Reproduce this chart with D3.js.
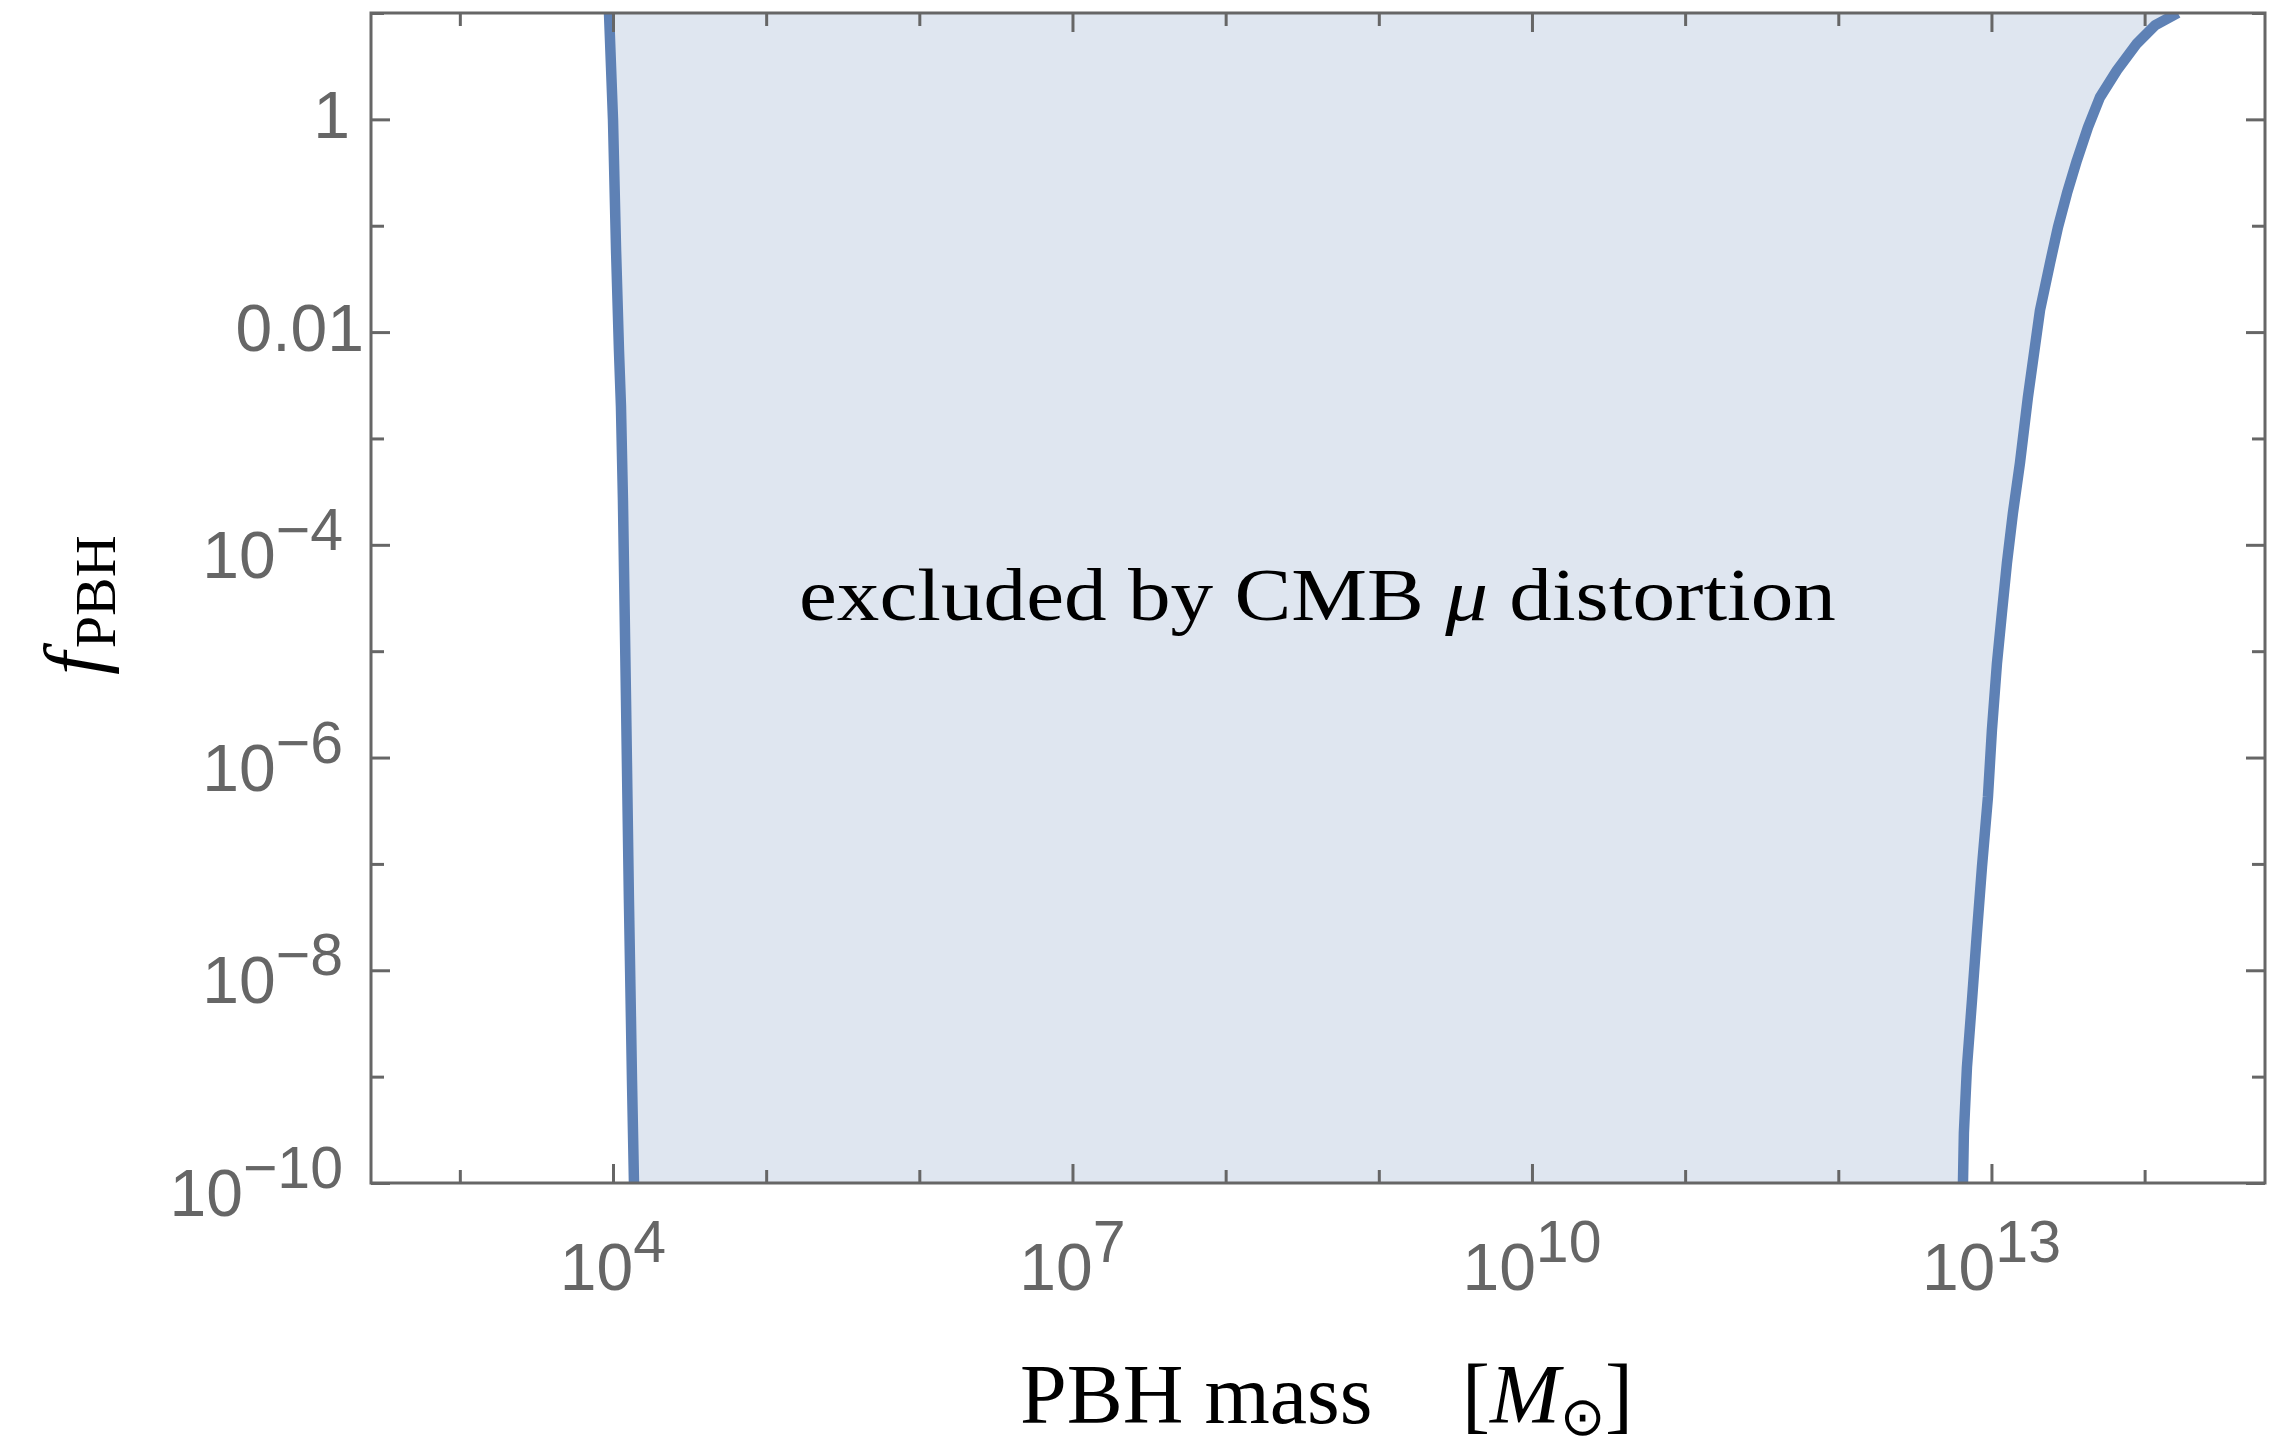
<!DOCTYPE html>
<html>
<head>
<meta charset="utf-8">
<script src="https://cdn.jsdelivr.net/npm/d3@7"></script>
<style>
  body { margin: 0; background: #fff; }
  svg { display: block; }
</style>
</head>
<body>
<svg id="chart"></svg>
<script>
// curve points, as log10 values
const massExpLeft = [3.974, 4.0, 4.020, 4.039, 4.052, 4.065, 4.085, 4.104, 4.124, 4.137];
const fExpLeft    = [1.0, 0, -1.231, -2.171, -2.697, -3.581, -5.461, -7.340, -9.032, -10];

const massExpRight = [14.217, 14.067, 13.950, 13.819, 13.708, 13.630, 13.558, 13.493, 13.434, 13.382,
                      13.317, 13.238, 13.186, 13.140, 13.101, 13.068, 13.036, 13.003, 12.977, 12.938,
                      12.905, 12.873, 12.840, 12.820, 12.814];
const fExpRight    = [1.0, 0.883, 0.714, 0.461, 0.207, -0.075, -0.385, -0.695, -1.015, -1.353,
                      -1.795, -2.613, -3.233, -3.703, -4.173, -4.643, -5.113, -5.742, -6.372, -7.030,
                      -7.650, -8.280, -8.910, -9.530, -10.0];

const xMajorExp = [4, 7, 10, 13];
const xMinorExp = [3, 5, 6, 8, 9, 11, 12, 14];
const yMajorExp = [0, -2, -4, -6, -8, -10];
const yMinorExp = [1, -1, -3, -5, -7, -9];

const annotation = "excluded by CMB ";

const width = 2275, height = 1447;
const marginTop = 13, marginRight = 10, marginBottom = 264, marginLeft = 371;
const frameColor = "#666666";
const lineColor = "#5e81b5";

const x = d3.scaleLog()
    .domain([10 ** 2.42, 10 ** 14.786])
    .range([marginLeft, width - marginRight]);
const y = d3.scaleLog()
    .domain([1e-10, 10])
    .range([height - marginBottom, marginTop]);

const svg = d3.select("#chart")
    .attr("width", width)
    .attr("height", height)
    .attr("viewBox", [0, 0, width, height]);

svg.append("clipPath")
    .attr("id", "plot-clip")
  .append("rect")
    .attr("x", marginLeft)
    .attr("y", marginTop)
    .attr("width", width - marginLeft - marginRight)
    .attr("height", height - marginTop - marginBottom);

const left = massExpLeft.map((m, i) => [10 ** m, 10 ** fExpLeft[i]]);
const right = massExpRight.map((m, i) => [10 ** m, 10 ** fExpRight[i]]);

const line = d3.line()
    .x(d => x(d[0]))
    .y(d => y(d[1]));

const plot = svg.append("g").attr("clip-path", "url(#plot-clip)");

// shaded region between the two boundaries
plot.append("path")
    .attr("fill", "#dfe6f0")
    .attr("d", line(left.concat(right.slice().reverse())) + "Z");

plot.selectAll(".bound")
  .data([left, right])
  .join("path")
    .attr("class", "bound")
    .attr("fill", "none")
    .attr("stroke", lineColor)
    .attr("stroke-width", 10.5)
    .attr("stroke-linejoin", "round")
    .attr("d", line);

// frame ticks, all pointing inward
function ticks(axis, scale, exps, size, transform) {
  svg.append("g")
      .attr("transform", transform)
      .call(axis(scale)
          .tickValues(exps.map(e => 10 ** e))
          .tickSizeInner(-size)
          .tickSizeOuter(0)
          .tickFormat(""))
      .call(g => g.select(".domain").remove())
      .call(g => g.selectAll(".tick line")
          .attr("stroke", frameColor)
          .attr("stroke-width", 3));
}

const bottom = height - marginBottom, rightEdge = width - marginRight;
ticks(d3.axisBottom, x, xMajorExp, 19, `translate(0,${bottom})`);
ticks(d3.axisBottom, x, xMinorExp, 13, `translate(0,${bottom})`);
ticks(d3.axisTop, x, xMajorExp, 19, `translate(0,${marginTop})`);
ticks(d3.axisTop, x, xMinorExp, 13, `translate(0,${marginTop})`);
ticks(d3.axisLeft, y, yMajorExp, 19, `translate(${marginLeft},0)`);
ticks(d3.axisLeft, y, yMinorExp, 13, `translate(${marginLeft},0)`);
ticks(d3.axisRight, y, yMajorExp, 19, `translate(${rightEdge},0)`);
ticks(d3.axisRight, y, yMinorExp, 13, `translate(${rightEdge},0)`);

svg.append("rect")
    .attr("x", marginLeft)
    .attr("y", marginTop)
    .attr("width", rightEdge - marginLeft)
    .attr("height", bottom - marginTop)
    .attr("fill", "none")
    .attr("stroke", frameColor)
    .attr("stroke-width", 3);

// tick labels
const labelFont = "'Liberation Sans', Arial, Helvetica, sans-serif";

svg.append("g")
    .attr("font-family", labelFont)
    .attr("font-size", 66)
    .attr("fill", frameColor)
    .attr("text-anchor", "middle")
  .selectAll("text")
  .data(xMajorExp)
  .join("text")
    .attr("x", e => x(10 ** e))
    .attr("y", 1290)
    .call(t => t.append("tspan").text("10"))
    .call(t => t.append("tspan")
        .attr("font-size", 59)
        .attr("dy", -28)
        .text(e => e));

svg.append("g")
    .attr("font-family", labelFont)
    .attr("font-size", 66)
    .attr("fill", frameColor)
    .attr("text-anchor", "end")
  .selectAll("text")
  .data(yMajorExp)
  .join("text")
    .each(function(e) {
      const t = d3.select(this);
      const py = y(10 ** e);
      if (e === 0) {
        t.attr("x", 350).attr("y", py + 19).text("1");
      } else if (e === -2) {
        t.attr("x", 364).attr("y", py + 19).text("0.01");
      } else {
        t.attr("x", 343).attr("y", py + 33);
        t.append("tspan").text("10");
        t.append("tspan")
            .attr("font-size", 59)
            .attr("dy", -28)
            .text("\u2212" + Math.abs(e));
      }
    });

// axis titles and annotation
const serif = "'Liberation Serif', 'Times New Roman', serif";

const note = svg.append("text")
    .attr("font-family", serif)
    .attr("font-size", 74)
    .attr("fill", "#000")
    .attr("x", 799)
    .attr("y", 620)
    .attr("textLength", 1037)
    .attr("lengthAdjust", "spacingAndGlyphs");
note.append("tspan").text(annotation);
note.append("tspan").attr("font-style", "italic").text("\u03bc");
note.append("tspan").text(" distortion");

const xt = svg.append("text")
    .attr("font-family", serif)
    .attr("font-size", 84)
    .attr("fill", "#000")
    .attr("y", 1423);
xt.append("tspan").attr("x", 1020).text("PBH mass");
xt.append("tspan").attr("x", 1462).text("[");
xt.append("tspan").attr("font-style", "italic").text("M");
xt.append("tspan").attr("font-size", 54).attr("dy", 12).text("\u2299");
xt.append("tspan").attr("dy", -12).text("]");

const yt = svg.append("text")
    .attr("font-family", serif)
    .attr("fill", "#000")
    .attr("transform", "translate(101,675) rotate(-90)");
yt.append("tspan").attr("font-size", 82).attr("font-style", "italic").text("f");
yt.append("tspan").attr("font-size", 58).attr("dy", 14).attr("dx", 4).text("PBH");
</script>
</body>
</html>
